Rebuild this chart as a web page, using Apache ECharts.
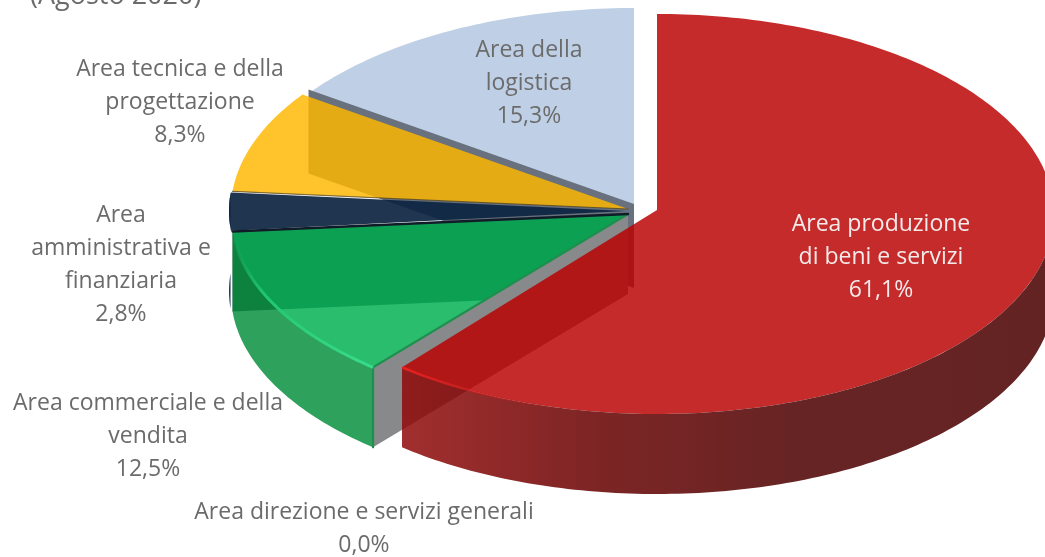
<!DOCTYPE html>
<html><head><meta charset="utf-8">
<style>html,body{margin:0;padding:0;background:#fff}#c{width:1045px;height:557px}</style>
<script src="https://cdn.jsdelivr.net/npm/echarts@6/dist/echarts.min.js"></script>
</head><body><div id="c"></div>
<script>
var categories = ['Area produzione\ndi beni e servizi','Area direzione e servizi generali','Area commerciale e della\nvendita','Area\namministrativa e\nfinanziaria','Area tecnica e della\nprogettazione','Area della\nlogistica'];
var values = [61.1, 0.0, 12.5, 2.8, 8.3, 15.3];
var valueLabels = ['61,1%','0,0%','12,5%','2,8%','8,3%','15,3%'];
var titleText = '(Agosto 2020)';

// layout: ellipse of the tilted pie, exploded centres, apexes, label anchors
var RX = 397, RY = 200, DEPTH = 80;
var centers = [[657,214],[628,214],[628,214],[626,211],[628,209],[634,208]];
var apexes  = [[657,210],[628,214],[628,214],[626,211],[628,209],[634,208]];
var labelAt = [[881,257],[364,529],[148,436],[121,265],[180,102],[529,83]];
var textColor = '#6b6b6b';
var FONT = '"Open Sans","Noto Sans",sans-serif';

var total = values.reduce(function(a,b){return a+b;},0);
var starts = [], acc = 0;
values.forEach(function(v){ starts.push(acc/total*360); acc += v; });

function pt(c, deg, dy){
  var a = deg*Math.PI/180;
  return [c[0]+RX*Math.sin(a), c[1]-RY*Math.cos(a)+(dy||0)];
}
function arc(c, a0, a1, dy){
  var p=[], n=Math.max(2,Math.ceil(Math.abs(a1-a0)));
  for(var i=0;i<=n;i++) p.push(pt(c,a0+(a1-a0)*i/n,dy));
  return p;
}
function poly(points, fill, z2){
  return {type:'polygon', shape:{points:points}, z2:z2, style:{fill:fill}, silent:true};
}
function line(points, color, z2, w){
  return {type:'polyline', shape:{points:points}, z2:z2,
    style:{fill:null, stroke:color, lineWidth:w, lineCap:'round'}, silent:true};
}
function topFace(apex,c,a0,a1){ return [apex].concat(arc(c,a0,a1)); }
function cut(c,a,lift){
  var p=pt(c,a), l=lift||0;
  return [[c[0],c[1]-l],[p[0],p[1]-l],[p[0],p[1]+DEPTH],[c[0],c[1]+DEPTH]];
}
function wall(c,a0,a1){ return arc(c,a0,a1).concat(arc(c,a1,a0,DEPTH)); }
function hGrad(stops){ return new echarts.graphic.LinearGradient(0,0,1,0,stops); }

var fills = ['rgba(186,0,0,.83)','#8a8a8a','rgba(0,176,80,.83)','rgba(12,36,65,.92)','rgba(255,183,0,.83)','#bfd0e6'];
var GRAY = '#88898a', SLATE = '#68717d', DEEP = '#4a535e';

function renderSlice(params, api){
  var i = params.dataIndex, v = api.value(0);
  var a0 = starts[i], a1 = a0 + v/total*360, c = centers[i], ap = apexes[i], kids = [];
  if(i===5){
    kids.push(poly(topFace(ap,c,a0,a1),fills[5],1));
    kids.push(poly(cut(c,a0,4),SLATE,2));
  }
  if(i===4){
    kids.push(poly(topFace(ap,c,a0,a1),fills[4],6));
    kids.push(line([c,pt(c,a0)],'rgba(70,60,30,.7)',7,1.2));
  }
  if(i===3){
    kids.push(poly(wall(c,a0,a1),'#1f3a5c',2));
    kids.push(poly(topFace(ap,c,a0-0.6,a1+0.3),fills[3],6));
  }
  if(i===2){
    kids.push(poly(cut(c,a1),DEEP,3));
    kids.push(poly(topFace(ap,c,a0,a1),fills[2],8));
    kids.push(poly(wall(c,a0,a1),'rgba(0,140,56,.82)',8));
    kids.push(poly(cut(c,a0),GRAY,4));
    kids.push(line([c,pt(c,a0),pt(c,a0,DEPTH)],'#1f8f50',9,2.2));
    kids.push(line([c,pt(c,a1)],'#101c28',9,2.4));
    kids.push({type:'polyline', shape:{points:arc(c,a0,a1)}, z2:9, silent:true,
      style:{fill:null,lineWidth:3,stroke:new echarts.graphic.LinearGradient(0,1,0,0,
        [{offset:0,color:'#38dc8c'},{offset:.55,color:'#20c56e'},{offset:.9,color:'rgba(20,170,90,.3)'},{offset:1,color:'rgba(20,170,90,0)'}])}});
  }
  if(i===0){
    kids.push(poly(topFace(ap,c,a0,a1),fills[0],10));
    kids.push(poly(wall(c,88,a1),hGrad([
      {offset:0,color:'rgba(145,10,10,.85)'},{offset:.1,color:'rgba(132,8,8,.86)'},
      {offset:.3,color:'rgba(118,25,25,.95)'},{offset:.6,color:'#672424'},{offset:1,color:'#642323'}]),10));
    kids.push({type:'polyline', shape:{points:arc(c,a1-24,a1)}, z2:11, silent:true,
      style:{fill:null,lineWidth:2.5,stroke:hGrad([{offset:0,color:'#ee2020'},{offset:.8,color:'rgba(200,30,30,.3)'},{offset:1,color:'rgba(190,30,30,0)'}])}});
  }
  var lab = labelAt[i];
  kids.push({type:'text', z2:20, silent:true, x:lab[0], y:lab[1],
    style:{text:categories[i]+'\n'+valueLabels[i], fill:i===0?'#f4eaea':textColor,
      font:'23px '+FONT, lineHeight:33, align:'center', verticalAlign:'middle'}});
  return {type:'group', children:kids};
}

var chart = echarts.init(document.getElementById('c'), null, {renderer:'canvas'});
chart.setOption({
  animation:false,
  backgroundColor:'#fff',
  graphic:[{type:'text', left:30, top:-17, z:50,
    style:{text:titleText, fill:textColor, font:'27px '+FONT}}],
  series:[{type:'custom', coordinateSystem:'none', renderItem:renderSlice, silent:true,
    data: values.map(function(v,i){return {name:categories[i].replace(/\n/g,' '), value:[v]};})}]
});
</script></body></html>
